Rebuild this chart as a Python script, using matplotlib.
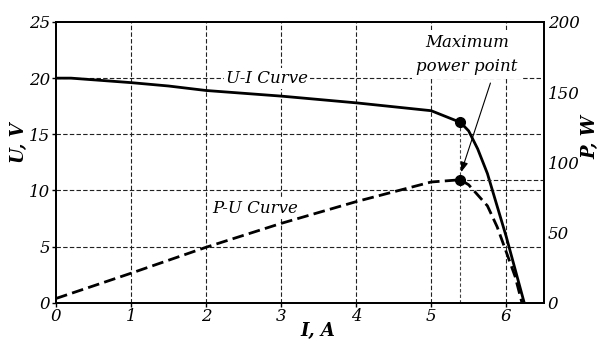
import matplotlib
matplotlib.use("Agg")
import matplotlib.pyplot as plt

# Data
ui_current = [0, 0.2, 1.0, 1.5, 2.0, 3.0, 4.0, 5.0, 5.39, 5.5, 5.62, 5.75, 6.0, 6.24]
ui_voltage = [20.0, 20.0, 19.6, 19.3, 18.9, 18.4, 17.8, 17.1, 16.06, 15.3, 13.7, 11.5, 5.9, 0.0]

pu_current = [0, 1.0, 2.0, 3.0, 4.0, 5.0, 5.39, 5.5, 5.65, 5.75, 5.88, 6.0, 6.12, 6.21]
pu_power = [3.0, 21.0, 39.5, 56.5, 72.0, 86.0, 87.6, 84.0, 75.0, 69.0, 54.0, 36.3, 18.5, 0.0]

mpp_current = 5.39
mpp_voltage = 16.06
mpp_power = 87.6

x_ticks = [0, 1, 2, 3, 4, 5, 6]
u_ticks = [0, 5, 10, 15, 20, 25]
p_ticks = [0, 50, 100, 150, 200]

FONT = "DejaVu Serif"
FS = 12
LFS = 13

fig = plt.figure(figsize=(6, 3.4), dpi=100)
ax = fig.add_axes([56/600, 1 - 302.7/340, (543.7-56)/600, (302.7-22)/340])
ax.set_xlim(0, 6.5)
ax.set_ylim(0, 25)

# grid
grid_kw = dict(color="#222222", lw=0.8, dashes=(4, 2), zorder=0.5)
for g in [5, 10, 15, 20]:
    ax.axhline(g, **grid_kw)
for g in [1, 2, 3, 4, 5, 6]:
    ax.axvline(g, **grid_kw)

ax.set_xticks(x_ticks)
ax.set_yticks(u_ticks)
ax.set_xticklabels([str(v) for v in x_ticks], fontstyle="italic", family=FONT, fontsize=FS)
ax.set_yticklabels([str(v) for v in u_ticks], fontstyle="italic", family=FONT, fontsize=FS)
ax.tick_params(axis="both", direction="out", length=3, width=1, pad=1)
for s in ax.spines.values():
    s.set_linewidth(1.3)

# MPP helper line (vertical)
ax.plot([mpp_current, mpp_current], [0, mpp_voltage], color="#444444", lw=0.8,
        dashes=(3, 2), zorder=0.6)

# U-I curve
ax.plot(ui_current, ui_voltage, color="black", lw=2.0, zorder=3,
        solid_joinstyle="round")
ax.plot([mpp_current], [mpp_voltage], "o", color="black", ms=7, zorder=4)

ax.set_xlabel("I, A", fontstyle="italic", fontweight="bold", family=FONT, fontsize=LFS)
ax.xaxis.set_label_coords(0.537, -0.07)
ax.set_ylabel("U, V", fontstyle="italic", fontweight="bold", family=FONT, fontsize=LFS)
ax.yaxis.set_label_coords(-0.058, 0.57)

ax2 = ax.twinx()
ax2.set_ylim(0, 200)
ax2.set_yticks(p_ticks)
ax2.set_yticklabels([str(v) for v in p_ticks], fontstyle="italic", family=FONT, fontsize=FS)
ax2.tick_params(axis="y", length=0, pad=3)
for s in ax2.spines.values():
    s.set_linewidth(1.3)
ax2.set_ylabel("P, W", fontstyle="italic", fontweight="bold", family=FONT, fontsize=LFS)
ax2.yaxis.set_label_coords(1.078, 0.59)

ax2.plot([mpp_current, 6.5], [mpp_power, mpp_power], color="#222222", lw=0.8,
         dashes=(4, 2), zorder=0.6)
ax2.plot(pu_current, pu_power, color="black", lw=2.0, dashes=(4.2, 1.9), zorder=3)
ax2.plot([mpp_current], [mpp_power], "o", color="black", ms=7, zorder=4)

box = dict(facecolor="white", edgecolor="none", pad=1.5)
ax2.text(2.81, 20 * 8, "U-I Curve", ha="center", va="center", fontstyle="italic",
         family=FONT, fontsize=FS, bbox=box, zorder=2)
ax2.text(2.65, 8.35 * 8, "P-U Curve", ha="center", va="center", fontstyle="italic",
         family=FONT, fontsize=FS, bbox=box, zorder=2)
ax2.text(5.476, 176.8, "Maximum\npower point", ha="center", va="center",
         fontstyle="italic", family=FONT, fontsize=FS, linespacing=1.5,
         bbox=dict(facecolor="white", edgecolor="none", pad=3), zorder=5)
ax2.annotate("", xy=(5.40, 93.0), xytext=(5.79, 156.5),
             arrowprops=dict(arrowstyle="-|>,head_length=0.6,head_width=0.22",
                             color="black", lw=0.8, shrinkA=0, shrinkB=0),
             zorder=5)

fig.savefig("out.png", dpi=100)
